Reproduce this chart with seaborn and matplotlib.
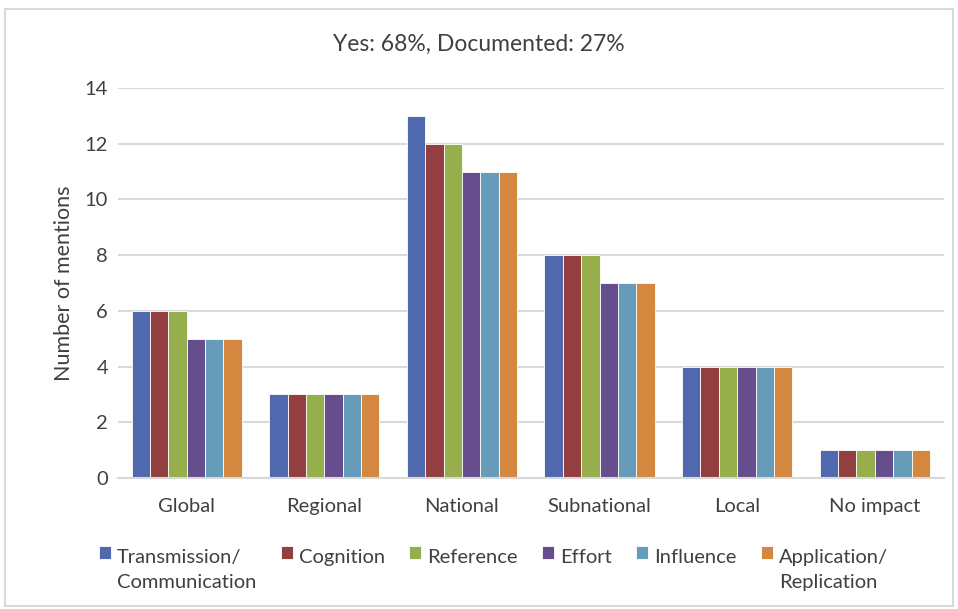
import pandas as pd
import numpy as np
import seaborn as sns
from matplotlib import pyplot as plt
from matplotlib.patches import Rectangle
from matplotlib.legend_handler import HandlerPatch

categories = ['Global', 'Regional', 'National', 'Subnational', 'Local', 'No impact']
series = ['Transmission/\nCommunication', 'Cognition', 'Reference', 'Effort',
          'Influence', 'Application/\nReplication']
transmission = [6, 3, 13, 8, 4, 1]
cognition = [6, 3, 12, 8, 4, 1]
reference = [6, 3, 12, 8, 4, 1]
effort = [5, 3, 11, 7, 4, 1]
influence = [5, 3, 11, 7, 4, 1]
application = [5, 3, 11, 7, 4, 1]
colors = ['#5068AD', '#943F3F', '#97AE4D', '#664D8D', '#679BBA', '#D4883F']

rows = []
for name, vals in zip(series, [transmission, cognition, reference, effort, influence, application]):
    for c, v in zip(categories, vals):
        rows.append({'category': c, 'series': name, 'value': v})
df = pd.DataFrame(rows)

sns.set_style('white')
plt.rcParams['font.family'] = ['Lato', 'DejaVu Sans']
txt = '#404040'

fig = plt.figure(figsize=(9.58, 6.09), dpi=100)
ax = fig.add_axes([0.123, 0.215, 0.862, 0.6405])

sns.barplot(data=df, x='category', y='value', hue='series', palette=colors,
            width=0.8, saturation=1, edgecolor='white', linewidth=0.6, ax=ax)

ax.set_ylim(0, 14)
ax.set_yticks(range(0, 15, 2))
ax.yaxis.grid(True, color='#D9D9D9', linewidth=1.5)
ax.set_axisbelow(True)
for s in ['top', 'right', 'left']:
    ax.spines[s].set_visible(False)
ax.spines['bottom'].set_color('#D9D9D9')
ax.spines['bottom'].set_linewidth(1.5)
ax.tick_params(axis='both', length=0, labelsize=14.5, colors=txt)
ax.tick_params(axis='x', pad=14)
ax.tick_params(axis='y', pad=7)
ax.set_xlabel('')
ax.set_ylabel('Number of mentions', fontsize=15.5, color=txt, labelpad=8)
fig.text(0.5, 1 - 44 / 609, 'Yes: 68%, Documented: 27%', fontsize=16.5, color=txt,
         ha='center', va='center')


# legend squares sit on the first text line, like the original
def top_square(legend, orig_handle, xdescent, ydescent, width, height, fontsize):
    return Rectangle((-xdescent, -ydescent + 0.87 * fontsize), width, height)


ax.legend_.remove()
handles, labels = ax.get_legend_handles_labels()
labels = [l if '\n' in l else l + '\n ' for l in labels]
leg = fig.legend(handles, labels, loc='upper center', bbox_to_anchor=(0.515, 0.128), ncol=6,
                 frameon=False, fontsize=14.5, handlelength=0.6, handleheight=0.6,
                 handletextpad=0.3, columnspacing=1.2, labelcolor=txt,
                 handler_map={h: HandlerPatch(patch_func=top_square) for h in handles})
for t in leg.get_texts():
    t.set_multialignment('left')
    t.set_linespacing(1.55)

fig.patches.append(Rectangle((0.005, 0.005), 0.99, 0.98, transform=fig.transFigure,
                             fill=False, edgecolor='#D9D9D9', linewidth=1.5))

plt.savefig('out.png', dpi=100)
